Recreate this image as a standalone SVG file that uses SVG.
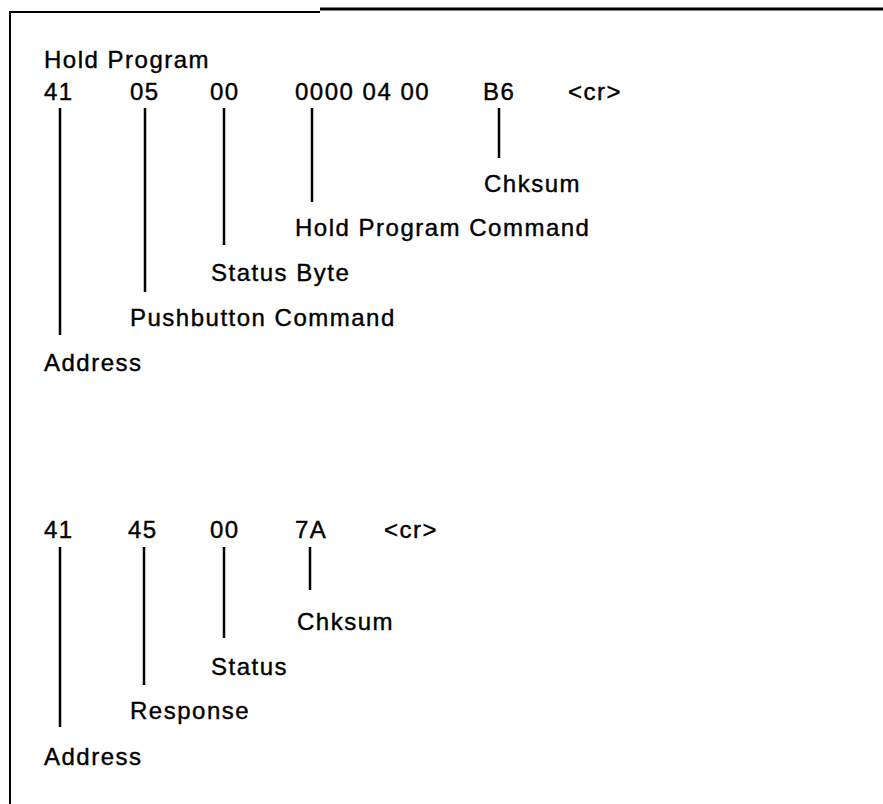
<svg xmlns="http://www.w3.org/2000/svg" width="883" height="804" viewBox="0 0 883 804">
<style>
text{font-family:"Liberation Sans",Arial,sans-serif;font-size:24px;fill:#000;stroke:#000;stroke-width:0.4;letter-spacing:1.5px}
.ln{stroke:#000;stroke-width:2.5;fill:none}
.frame{stroke:#000;fill:none}
</style>
<rect width="883" height="804" fill="#fff"/>
<g id="frame">
<line class="frame" x1="10" y1="12" x2="10" y2="804" stroke-width="2"/>
<line class="frame" x1="9" y1="12" x2="320" y2="12" stroke-width="2"/>
<line class="frame" x1="320" y1="9" x2="883" y2="9" stroke-width="3"/>
</g>
<g id="command">
<text id="title" x="44" y="68">Hold Program</text>
<g id="c-41"><text x="44" y="100">41</text></g>
<g id="c-05"><text x="130" y="100">05</text></g>
<g id="c-00"><text x="210" y="100">00</text></g>
<g id="c-0000"><text x="295" y="100">0000 04 00</text></g>
<g id="c-b6"><text x="483" y="100">B6</text></g>
<g id="c-cr"><text x="568" y="100">&lt;cr&gt;</text></g>
<g id="c-chksum"><text x="484" y="192">Chksum</text></g>
<g id="c-hpc"><text x="295" y="236">Hold Program Command</text></g>
<g id="c-status"><text x="211" y="281">Status Byte</text></g>
<g id="c-push"><text x="130" y="326">Pushbutton Command</text></g>
<g id="c-addr"><text x="44" y="371">Address</text></g>
</g>
<g id="response">
<g id="r-41"><text x="44" y="538">41</text></g>
<g id="r-45"><text x="128" y="538">45</text></g>
<g id="r-00"><text x="210" y="538">00</text></g>
<g id="r-7a"><text x="295" y="538">7A</text></g>
<g id="r-cr"><text x="384" y="538">&lt;cr&gt;</text></g>
<g id="r-chksum"><text x="297" y="630">Chksum</text></g>
<g id="r-status"><text x="211" y="675">Status</text></g>
<g id="r-resp"><text x="130" y="719">Response</text></g>
<g id="r-addr"><text x="44" y="765">Address</text></g>
</g>
<g id="connectors">
<line class="ln" x1="60" y1="108" x2="60" y2="335"/>
<line class="ln" x1="145" y1="108" x2="145" y2="292"/>
<line class="ln" x1="224" y1="108" x2="224" y2="245"/>
<line class="ln" x1="312" y1="108" x2="312" y2="202"/>
<line class="ln" x1="499" y1="108" x2="499" y2="158" stroke-width="2"/>
<line class="ln" x1="60" y1="547" x2="60" y2="727"/>
<line class="ln" x1="144" y1="547" x2="144" y2="685"/>
<line class="ln" x1="224" y1="547" x2="224" y2="638"/>
<line class="ln" x1="310" y1="547" x2="310" y2="590"/>
</g>
</svg>
